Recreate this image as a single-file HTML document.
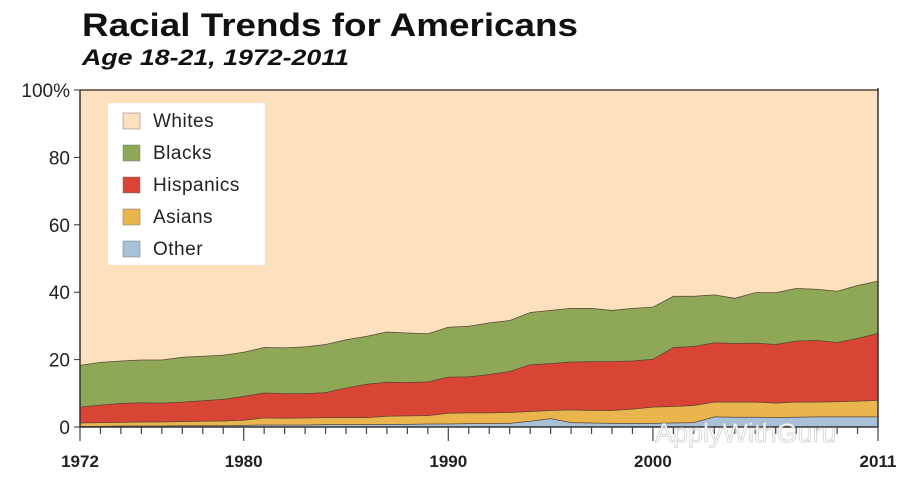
<!DOCTYPE html>
<html><head><meta charset="utf-8"><style>
body{margin:0;background:#fff;width:900px;height:481px;overflow:hidden;font-family:"Liberation Sans",Arial,sans-serif}
</style></head><body>
<svg id="chart" width="900" height="481">
<text x="82" y="36" font-size="32" font-weight="bold" fill="#111" textLength="496" lengthAdjust="spacingAndGlyphs">Racial Trends for Americans</text>
<text x="82" y="65" font-size="22" font-weight="bold" font-style="italic" fill="#111" textLength="267" lengthAdjust="spacingAndGlyphs">Age 18-21, 1972-2011</text>
<g id="areas"></g>
<g id="axes"></g>
<g id="legend"></g>
<text x="655" y="442" font-size="27" fill="#fff" stroke="#ccc" stroke-width="0.8" opacity="0.9">ApplyWithGuru</text>
</svg>
<script>
const years=[];for(let y=1972;y<=2011;y++)years.push(y);
const other=[0.3,0.3,0.4,0.4,0.4,0.5,0.5,0.5,0.6,0.7,0.7,0.7,0.8,0.8,0.8,0.9,0.9,1.0,1.0,1.1,1.1,1.2,1.8,2.6,1.4,1.3,1.2,1.2,1.2,1.3,1.4,3.1,3.0,3.0,2.9,3.0,3.1,3.1,3.1,3.1];
const asians=[1.0,1.1,1.1,1.2,1.2,1.2,1.3,1.4,1.5,2.1,2.0,2.1,2.1,2.1,2.1,2.4,2.5,2.5,3.2,3.2,3.2,3.2,2.9,2.4,3.8,3.7,3.8,4.2,4.8,4.9,5.1,4.4,4.5,4.5,4.3,4.5,4.4,4.5,4.7,4.9];
const hispanics=[4.7,5.2,5.6,5.7,5.6,5.8,6.1,6.4,7.1,7.4,7.3,7.2,7.4,8.8,9.9,10.1,9.9,10.0,10.7,10.7,11.4,12.2,13.9,13.9,14.2,14.5,14.5,14.3,14.2,17.5,17.5,17.6,17.4,17.5,17.4,18.1,18.3,17.6,18.6,19.9];
const blacks=[12.4,12.7,12.6,12.7,12.8,13.3,13.2,13.1,13.1,13.5,13.6,13.9,14.3,14.3,14.2,14.9,14.7,14.3,14.8,15.0,15.3,15.1,15.5,15.8,15.9,15.8,15.2,15.6,15.5,15.2,14.9,14.2,13.4,15.0,15.4,15.6,15.2,15.2,15.7,15.5];
const whites=years.map((_,i)=>+(100-other[i]-asians[i]-hispanics[i]-blacks[i]).toFixed(1));
const yTicks=[0,20,40,60,80,100];
const xLabels=[1972,1980,1990,2000,2011];

const NS="http://www.w3.org/2000/svg";
const X0=80,X1=878,Y0=427,Y1=90;
const xs=y=>X0+(y-1972)*(X1-X0)/(2011-1972);
const ys=v=>Y0-v*(Y0-Y1)/100;
function mk(tag,attrs,parent){const e=document.createElementNS(NS,tag);for(const k in attrs)e.setAttribute(k,attrs[k]);parent.appendChild(e);return e;}
const areas=document.getElementById('areas');
const series=[["other",other,"#a9c1d8","Other"],["asians",asians,"#ebb54e","Asians"],["hispanics",hispanics,"#d84535","Hispanics"],["blacks",blacks,"#8fa858","Blacks"],["whites",whites,"#fde0bd","Whites"]];
let base=years.map(()=>0);
series.forEach(s=>{
  const top=base.map((b,i)=>b+s[1][i]);
  let d="M"+years.map((y,i)=>xs(y)+","+ys(top[i])).join(" L");
  for(let i=years.length-1;i>=0;i--)d+=" L"+xs(years[i])+","+ys(base[i]);
  d+="Z";
  const p=mk('path',{d:d,fill:s[2]},areas);
  
  
  const l=mk('path',{d:"M"+years.map((y,i)=>xs(y)+","+ys(top[i])).join(" L"),fill:"none",stroke:"#5a4535","stroke-width":1.5},areas);
  
  
  base=top;
});
const ax=document.getElementById('axes');
const ra=mk('line',{x1:X1,y1:Y1-2,x2:X1,y2:Y0,stroke:"#333","stroke-width":1.5},ax);

const xa=mk('line',{x1:X0,y1:Y0,x2:X1,y2:Y0,stroke:"#333","stroke-width":1.5},ax);

const ya=mk('line',{x1:X0,y1:Y1,x2:X0,y2:Y0,stroke:"#333","stroke-width":1.5},ax);

yTicks.forEach(v=>{
  mk('line',{x1:X0-6,y1:ys(v),x2:X0,y2:ys(v),stroke:"#333"},ax);
  const t=mk('text',{x:70,y:ys(v)+7,"text-anchor":"end","font-size":19,fill:"#222"},ax);
  t.textContent=v===100?"100%":v;
  
});
years.forEach(y=>{
  const major=xLabels.includes(y);
  mk('line',{x1:xs(y),y1:Y0,x2:xs(y),y2:Y0+(major?14:7),stroke:"#444","stroke-width":1.2},ax);
});
xLabels.forEach(y=>{
  const t=mk('text',{x:xs(y),y:Y0+40,"text-anchor":"middle","font-size":17,"font-weight":"bold",fill:"#222"},ax);
  t.textContent=y;
  
});
const lg=document.getElementById('legend');
mk('rect',{x:108,y:103,width:157,height:162,fill:"#fff"},lg);
series.slice().reverse().forEach((s,i)=>{
  const cy=120+i*32;
  const r=mk('rect',{x:123,y:cy-7,width:17,height:16,fill:s[2],stroke:"#777","stroke-width":0.5},lg);
  
  const t=mk('text',{x:153,y:cy+7,"font-size":19,fill:"#222","letter-spacing":"0.5"},lg);
  t.textContent=s[3];
  
});
</script>
</body></html>
